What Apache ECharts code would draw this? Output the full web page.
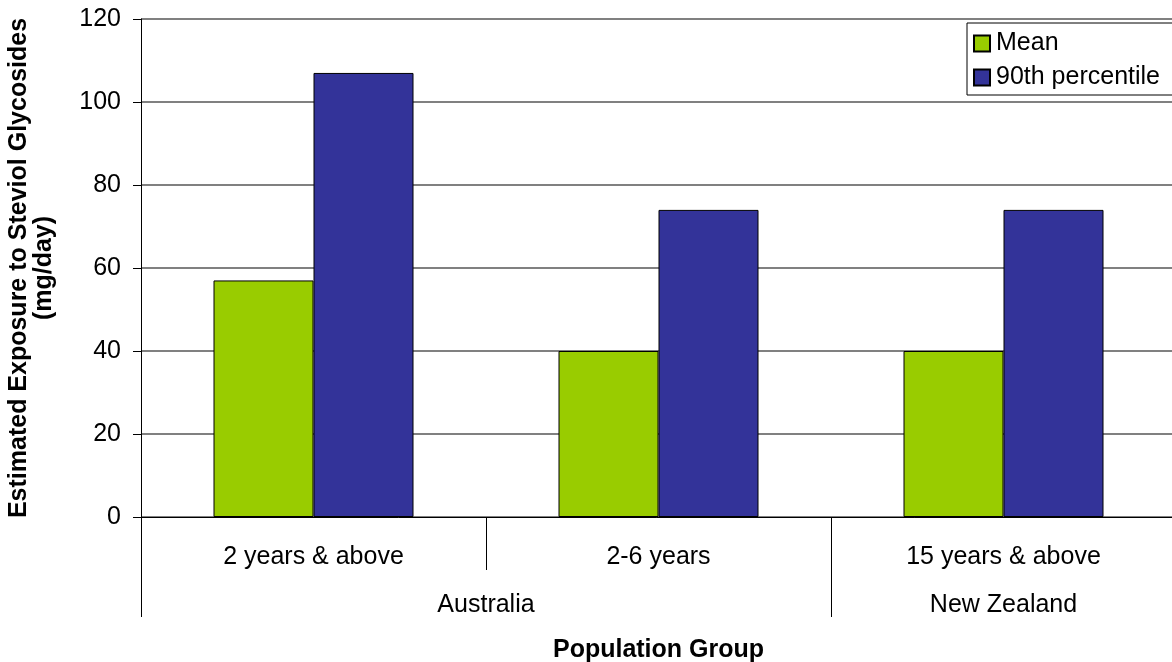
<!DOCTYPE html>
<html>
<head>
<meta charset="utf-8">
<script src="https://cdn.jsdelivr.net/npm/echarts@6/dist/echarts.min.js"></script>
<style>
  html, body { margin: 0; padding: 0; background: #fff; }
  #chart { width: 1172px; height: 662px; }
</style>
</head>
<body>
<div id="chart"></div>
<script>
// Population groups (first level) and their countries (second level)
const groups = ['2 years & above', '2-6 years', '15 years & above'];
const countrySlots = ['', '', 'Australia', '', '', 'New Zealand', ''];
const countryTickSlots = [0, 4, 6];

// Estimated exposure, mg/day
const meanValues = [57, 40, 40];
const p90Values = [107, 74, 74];

const yTicks = { min: 0, max: 120, interval: 20 };

const FONT = "'Liberation Sans', Arial, sans-serif";
const FS = 25;

const chart = echarts.init(document.getElementById('chart'), null, { renderer: 'canvas' });

chart.setOption({
  animation: false,
  backgroundColor: '#ffffff',
  textStyle: { fontFamily: FONT },
  grid: { left: 141, top: 19, width: 1035, height: 498, containLabel: false, outerBoundsMode: 'none' },
  legend: {
    orient: 'vertical',
    left: 967,
    top: 23,
    backgroundColor: '#ffffff',
    borderColor: '#000000',
    borderWidth: 1,
    borderRadius: 0,
    padding: [8, 30, 5, 6],
    itemGap: 9,
    itemWidth: 16,
    itemHeight: 16,
    icon: 'rect',
    textStyle: { fontFamily: FONT, fontSize: FS, color: '#000', padding: [0, 0, 0, 1] },
    data: ['Mean', '90th percentile']
  },
  xAxis: [
    {
      type: 'category',
      data: groups,
      position: 'bottom',
      axisLine: { show: true, lineStyle: { color: '#000', width: 1 } },
      axisTick: { show: true, length: 53, lineStyle: { color: '#000', width: 1 } },
      axisLabel: { fontFamily: FONT, fontSize: FS, color: '#000', margin: 28, interval: 0 },
      splitLine: { show: false },
      name: 'Population Group',
      nameLocation: 'middle',
      nameGap: 121,
      nameTextStyle: { fontFamily: FONT, fontSize: FS, fontWeight: 'bold', color: '#000' }
    },
    {
      type: 'category',
      data: countrySlots,
      position: 'bottom',
      boundaryGap: false,
      axisLine: { show: false },
      axisTick: {
        show: true,
        length: 100,
        interval: (i) => countryTickSlots.indexOf(i) >= 0,
        lineStyle: { color: '#000', width: 1 }
      },
      axisLabel: { fontFamily: FONT, fontSize: FS, color: '#000', margin: 76, interval: 0 },
      splitLine: { show: false }
    }
  ],
  yAxis: {
    type: 'value',
    min: yTicks.min,
    max: yTicks.max,
    interval: yTicks.interval,
    axisLine: { show: true, lineStyle: { color: '#000', width: 1 } },
    axisTick: { show: true, length: 8, lineStyle: { color: '#000', width: 1 } },
    axisLabel: { fontFamily: FONT, fontSize: FS, color: '#000', margin: 20 },
    splitLine: { show: true, lineStyle: { color: '#808080', width: 2 } },
    name: 'Estimated Exposure to Steviol Glycosides\n(mg/day)',
    nameLocation: 'middle',
    nameRotate: 90,
    nameGap: 84,
    nameTextStyle: { fontFamily: FONT, fontSize: FS, fontWeight: 'bold', color: '#000', lineHeight: 25 }
  },
  series: [
    {
      name: 'Mean',
      type: 'bar',
      xAxisIndex: 0,
      data: meanValues,
      barWidth: 100,
      barGap: '0%',
      itemStyle: { color: '#99CC00', borderColor: '#000', borderWidth: 1 }
    },
    {
      name: '90th percentile',
      type: 'bar',
      xAxisIndex: 0,
      data: p90Values,
      barWidth: 100,
      barGap: '0%',
      itemStyle: { color: '#333399', borderColor: '#000', borderWidth: 1 }
    }
  ]
});
</script>
</body>
</html>
